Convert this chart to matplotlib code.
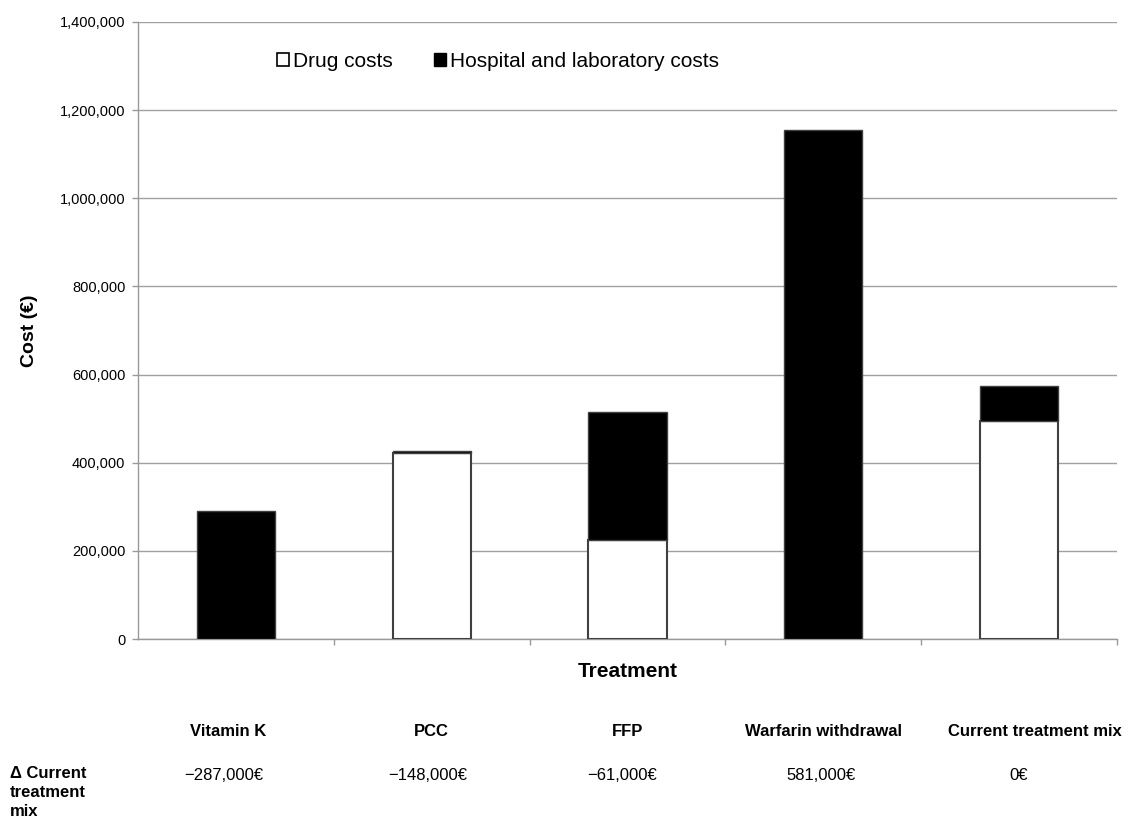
import matplotlib
matplotlib.use("Agg")
import matplotlib.pyplot as plt
import matplotlib.transforms as mtransforms
from matplotlib.patches import Patch
from matplotlib.ticker import FuncFormatter

plt.rcParams['font.family'] = ['Liberation Sans', 'DejaVu Sans']

categories = ["Vitamin K", "PCC", "FFP", "Warfarin withdrawal", "Current treatment mix"]
drug_costs = [0, 422000, 224000, 0, 494000]
hospital_costs = [290000, 4000, 290000, 1155000, 81000]
delta_labels = ["\u2212287,000\u20ac", "\u2212148,000\u20ac", "\u221261,000\u20ac", "581,000\u20ac", "0\u20ac"]
yticks = [0, 200000, 400000, 600000, 800000, 1000000, 1200000, 1400000]

# layout nudges for the header row (in category units)
header_nudge = [-0.04, 0, 0, 0, 0.08]
value_nudge = [-0.06, -0.02, -0.03, -0.01, 0.0]

fig = plt.figure(figsize=(11.45, 8.24), dpi=100)
ax = fig.add_axes([0.1205, 0.2245, 0.855, 0.749])

x = list(range(len(categories)))
edge = "#404040"
ax.bar(x, drug_costs, width=0.40, color="white", edgecolor=edge, linewidth=1.5, zorder=3,
       label="Drug costs")
ax.bar(x, hospital_costs, bottom=drug_costs, width=0.40, color="black", edgecolor=edge,
       linewidth=1.0, zorder=3, label="Hospital and laboratory costs")

ax.set_xlim(-0.5, len(categories) - 0.5)
ax.set_ylim(0, 1400000)
ax.set_yticks(yticks)
ax.yaxis.set_major_formatter(FuncFormatter(lambda v, p: f"{int(v):,}"))
ax.tick_params(axis='y', labelsize=10.5, length=4, color="#999999", width=1, pad=5)
ax.set_xticks([i + 0.5 for i in x[:-1]] + [len(categories) - 0.5])
ax.set_xticklabels([])
ax.tick_params(axis='x', length=4, color="#999999", width=1)
ax.grid(axis='y', color="#a0a0a0", linewidth=1.0, zorder=0)
ax.set_axisbelow(True)
for s in ["top", "right"]:
    ax.spines[s].set_visible(False)
for s in ["left", "bottom"]:
    ax.spines[s].set_color("#999999")
    ax.spines[s].set_linewidth(1.0)

ax.set_ylabel("Cost (\u20ac)", fontsize=14, fontweight="bold", labelpad=16)
ax.set_xlabel("Treatment", fontsize=15, fontweight="bold", labelpad=9)

handles = [Patch(facecolor="white", edgecolor="black", linewidth=1.2, label="Drug costs"),
           Patch(facecolor="black", edgecolor="black", label="Hospital and laboratory costs")]
ax.legend(handles=handles, loc="upper left", bbox_to_anchor=(0.123, 0.982), ncol=2,
          frameon=False, fontsize=15, handlelength=0.55, handleheight=0.55,
          handletextpad=0.2, columnspacing=2.0)

trans = mtransforms.blended_transform_factory(ax.transData, fig.transFigure)
for i, (c, d) in enumerate(zip(categories, delta_labels)):
    ax.text(i + header_nudge[i], 1 - 731 / 824, c, transform=trans, ha="center", va="center",
            fontsize=12, fontweight="bold")
    ax.text(i + value_nudge[i], 1 - 775 / 824, d, transform=trans, ha="center",
            va="center", fontsize=12)

fig.text(10 / 1145, 1 - 766 / 824, "\u0394 Current\ntreatment\nmix", ha="left", va="top",
         fontsize=12, fontweight="bold", linespacing=1.32)

fig.savefig("out.png", dpi=100)
